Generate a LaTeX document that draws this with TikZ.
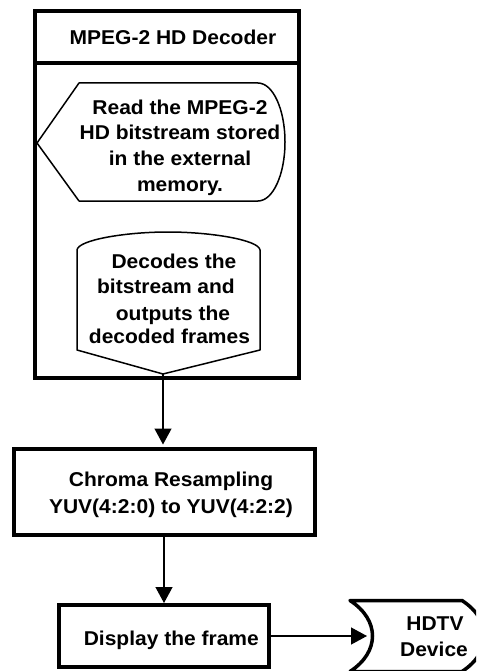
\documentclass[tikz,border=0pt]{standalone}
\usepackage{fontspec}
\setmainfont{Liberation Sans}[FakeStretch=1.05]
\usetikzlibrary{arrows.meta}
\begin{document}
\begin{tikzpicture}[x=1pt,y=-1pt,
  lbl/.style={font=\fontsize{20}{26}\selectfont\bfseries, inner sep=0pt, anchor=base},
  heavy/.style={line width=4pt},
  boxed/.style={draw, heavy, inner sep=0pt},
  thinshape/.style={line width=1.5pt, line join=round},
  flow/.style={line width=1.3pt, -{Triangle[length=16pt,width=17pt]}},
]
\useasboundingbox (0,0) rectangle (476,671);
\clip (0,0) rectangle (476,671);

% decoder container with its title bar
\node[boxed, minimum width=264pt, minimum height=366.5pt] (dec) at (167,194.25) {};
\draw[heavy] (dec.west |- 0,63) -- (dec.east |- 0,63);
\node[lbl] (hdr) at (173,44.3) {MPEG-2 HD Decoder};

% read step (display symbol)
\draw[thinshape] (37,143) -- (79,83) -- (258,83)
  arc[start angle=-90, end angle=90, x radius=27, y radius=59]
  -- (79,201) -- cycle;
\node[lbl] (rd1) at (180,114.3) {Read the MPEG-2};
\node[lbl] (rd2) at (180,140) {HD bitstream stored};
\node[lbl] (rd3) at (180,165.7) {in the external};
\node[lbl] (rd4) at (180,191.7) {memory.};

% decode step (off-page style symbol)
\coordinate (decv) at (163,374);
\draw[thinshape] (77,350) -- (77,250)
  .. controls (78,240) and (125,232) .. (168,232)
  .. controls (211,232) and (259,240) .. (260,250)
  -- (260,350) -- (decv) -- cycle;
\node[lbl] (dc1) at (174,268.3) {Decodes the};
\node[lbl] (dc2) at (166,293.3) {bitstream and};
\node[lbl] (dc3) at (173,320.7) {outputs the};
\node[lbl] (dc4) at (169.5,343.3) {decoded frames};

% chroma resampling
\node[boxed, minimum width=301pt, minimum height=86.5pt] (chroma) at (164,491.75) {};
\node[lbl] (cr1) at (171,486) {Chroma Resampling};
\node[lbl] (cr2) at (171,513.3) {YUV(4:2:0) to YUV(4:2:2)};

% display
\node[boxed, minimum width=210.5pt, minimum height=62pt] (disp) at (163.75,636) {};
\node[lbl] (dsp) at (171.3,645) {Display the frame};

% output device (stored-data symbol)
\draw[line width=3.5pt, line join=round] (462,600.5) -- (350,600.5)
  .. controls (380,620) and (380,652) .. (350,671.5)
  -- (462,671.5)
  .. controls (492,652) and (492,620) .. (462,600.5) -- cycle;
\coordinate (hdin) at (371,636);
\node[lbl] (tv1) at (435,630) {HDTV};
\node[lbl] (tv2) at (434,656.7) {Device};

% connectors
\draw[flow, shorten >=2pt] (decv) -- (decv |- chroma.north);
\draw[flow] (chroma.south) -- (chroma.south |- disp.north);
\draw[flow, shorten >=4pt] (disp.east) -- (hdin);
\end{tikzpicture}
\end{document}
